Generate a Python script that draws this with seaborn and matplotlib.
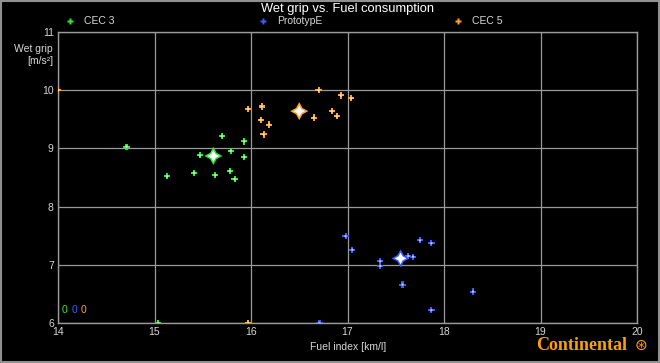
import matplotlib
matplotlib.use("Agg")
import matplotlib.pyplot as plt
import seaborn as sns
import pandas as pd
from matplotlib.lines import Line2D
from matplotlib.patches import Rectangle

# ---- data ----
cec3_x = [14.71, 15.13, 15.41, 15.47, 15.63, 15.70, 15.78, 15.79, 15.83, 15.93, 15.93, 15.04]
cec3_y = [9.03, 8.52, 8.58, 8.88, 8.54, 9.21, 8.61, 8.96, 8.47, 9.12, 8.85, 6.00]
proto_x = [16.98, 17.05, 17.34, 17.34, 17.63, 17.68, 17.75, 17.87, 17.57, 18.30, 17.87, 16.71]
proto_y = [7.49, 7.26, 7.06, 6.98, 7.15, 7.14, 7.42, 7.37, 6.66, 6.54, 6.22, 6.00]
cec5_x = [16.70, 16.93, 17.04, 15.97, 16.11, 16.84, 16.10, 16.19, 16.65, 16.89, 16.13, 14.00, 15.97]
cec5_y = [10.00, 9.91, 9.86, 9.68, 9.72, 9.64, 9.49, 9.41, 9.53, 9.55, 9.24, 10.00, 6.00]
mean_x = [15.61, 17.55, 16.50]
mean_y = [8.87, 7.11, 9.64]
series = ["CEC 3", "PrototypE", "CEC 5"]
colors = ["#33e633", "#3a5cff", "#ffa030"]
centers = ["#b0ffb0", "#b8c8ff", "#ffe0b0"]
x_ticks = [14, 15, 16, 17, 18, 19, 20]
y_ticks = [6, 7, 8, 9, 10, 11]
counts = ["0", "0", "0"]

df = pd.concat([
    pd.DataFrame({"x": cec3_x, "y": cec3_y, "s": series[0]}),
    pd.DataFrame({"x": proto_x, "y": proto_y, "s": series[1]}),
    pd.DataFrame({"x": cec5_x, "y": cec5_y, "s": series[2]}),
])
dfm = pd.DataFrame({"x": mean_x, "y": mean_y, "s": series})
pal = dict(zip(series, colors))
pal_c = dict(zip(series, centers))

sns.set_style("dark")
plt.rcParams['font.family'] = ['Liberation Sans', 'DejaVu Sans']

fig = plt.figure(figsize=(6.6, 3.63), dpi=100, facecolor="black")
ax = fig.add_axes([58/660, 1-323/363, (637-58)/660, (323-32)/363])
ax.set_facecolor("black")

# glow + bright centre
sns.scatterplot(data=df, x="x", y="y", hue="s", palette=pal, marker="P", s=20,
                edgecolor="none", ax=ax, legend=False, zorder=3)
sns.scatterplot(data=df, x="x", y="y", hue="s", palette=pal_c, marker="o", s=3,
                edgecolor="none", ax=ax, legend=False, zorder=4)
# mean stars
sns.scatterplot(data=dfm, x="x", y="y", hue="s", palette=pal, marker=(4, 1, 0), s=170,
                edgecolor="none", ax=ax, legend=False, zorder=5)
sns.scatterplot(data=dfm, x="x", y="y", color="white", marker=(4, 1, 0), s=70,
                edgecolor="none", ax=ax, legend=False, zorder=6)

ax.set_xlim(14, 20)
ax.set_ylim(6, 11)
ax.set_xticks(x_ticks)
ax.set_yticks(y_ticks)
ax.set_xticklabels([str(t) for t in x_ticks])
ax.set_yticklabels([str(t) for t in y_ticks])
ax.grid(True, color="#9a9a9a", linewidth=0.9)
ax.set_axisbelow(True)
for sp in ax.spines.values():
    sp.set_visible(True)
    sp.set_color("#9a9a9a")
    sp.set_linewidth(1)
ax.tick_params(colors="#d0d0d0", labelsize=7.5, length=2, pad=1, labelcolor="#d8d8d8")
ax.set_xlabel("")
ax.set_ylabel("")

fig.text(348/660, 1-347/363, "Fuel index [km/l]", color="#d8d8d8", fontsize=7.5,
         ha="center", va="center")
fig.text(53/660, 1-55/363, "Wet grip\n[m/s²]", color="#d8d8d8", fontsize=7.5,
         ha="right", va="center", linespacing=1.2)
fig.text(348/660, 1-9/363, "Wet grip vs. Fuel consumption", color="white", fontsize=9.3,
         ha="center", va="center")

# legend
leg_x = [70, 263, 458]
for lx, name, c in zip(leg_x, series, colors):
    fig.add_artist(Line2D([lx/660], [1-21/363], marker="P", markersize=4, color=c,
                          markeredgecolor="none", linestyle="none", transform=fig.transFigure))
    fig.text((lx+14)/660, 1-21/363, name, color="#d8d8d8", fontsize=7.5, va="center", ha="left")

# counts
for i, (cnt, c) in enumerate(zip(counts, colors)):
    fig.text((64 + i*10)/660, 1-310/363, cnt, color=c, fontsize=7.5, ha="center", va="center")

# logo text
fig.text(627/660, 1-345/363, "Continental", color="#ffa000", fontsize=13, fontweight="bold",
         family=["Liberation Serif", "DejaVu Serif"], ha="right", va="center")
fig.text(641/660, 1-345/363, "⊛", color="#ffa000", fontsize=11, ha="center", va="center",
         family=["DejaVu Sans"])

fig.add_artist(Rectangle((0.002, 0.003), 0.996, 0.994, transform=fig.transFigure,
                         fill=False, edgecolor="#909090", linewidth=1.5))

fig.savefig("out.png", dpi=100, facecolor="black")
